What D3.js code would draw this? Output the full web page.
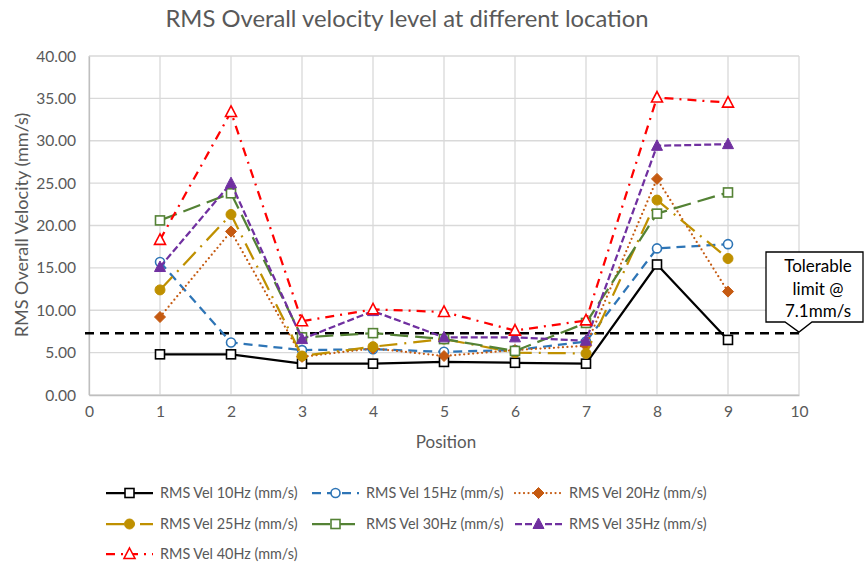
<!DOCTYPE html>
<html>
<head>
<meta charset="utf-8">
<script src="https://cdnjs.cloudflare.com/ajax/libs/d3/7.8.5/d3.min.js"></script>
<style>
  body { margin: 0; background: #fff; }
  text { font-family: Lato, "Open Sans", sans-serif; }
</style>
</head>
<body>
<svg width="864" height="563"></svg>
<script>
// DATA ////////////////////////////////////////////////////////////////////////
const positions = [1, 2, 3, 4, 5, 6, 7, 8, 9];
const vel10 = [4.8, 4.8, 3.7, 3.7, 3.9, 3.8, 3.7, 15.4, 6.5];
const vel15 = [15.7, 6.2, 5.3, 5.4, 5.1, 5.3, 6.3, 17.3, 17.8];
const vel20 = [9.2, 19.3, 4.5, 5.5, 4.6, 5.3, 5.8, 25.5, 12.2];
const vel25 = [12.4, 21.3, 4.6, 5.7, 6.6, 5.0, 4.9, 23.0, 16.1];
const vel30 = [20.6, 23.8, 6.8, 7.3, 6.6, 5.2, 8.5, 21.4, 23.9];
const vel35 = [15.1, 25.0, 6.6, 9.9, 6.8, 6.8, 6.4, 29.4, 29.6];
const vel40 = [18.3, 33.4, 8.7, 10.1, 9.8, 7.6, 8.8, 35.1, 34.5];
const seriesNames = [
  'RMS Vel 10Hz (mm/s)', 'RMS Vel 15Hz (mm/s)', 'RMS Vel 20Hz (mm/s)',
  'RMS Vel 25Hz (mm/s)', 'RMS Vel 30Hz (mm/s)', 'RMS Vel 35Hz (mm/s)',
  'RMS Vel 40Hz (mm/s)'
];
const seriesValues = [vel10, vel15, vel20, vel25, vel30, vel35, vel40];
const limitValue = 7.3;
const limitLines = ['Tolerable', 'limit @', '7.1mm/s'];
const xTicks = [0, 1, 2, 3, 4, 5, 6, 7, 8, 9, 10];
const yTicks = [0, 5, 10, 15, 20, 25, 30, 35, 40];

// STYLES //////////////////////////////////////////////////////////////////////
const styles = [
  { color: '#000000', dash: null, marker: 'square', fill: 'none', w: 2.25 },
  { color: '#2E75B6', dash: '9,6', marker: 'circle', fill: 'none', w: 2.25 },
  { color: '#C55A11', dash: '0,4.5', marker: 'diamond', fill: 'full', w: 2.25, cap: 'round' },
  { color: '#BF9000', dash: '18,7,2,7', marker: 'dot', fill: 'full', w: 2.25 },
  { color: '#548235', dash: '18,7', marker: 'square', fill: 'none', w: 2.25 },
  { color: '#7030A0', dash: '7,3', marker: 'triangle', fill: 'full', w: 2.25 },
  { color: '#FF0000', dash: '9,6,2,6', marker: 'triangle', fill: 'none', w: 2.25 }
];

// SET PARAMETERS //////////////////////////////////////////////////////////////
const svg = d3.select('svg');
const x = d3.scaleLinear().domain([0, 10]).range([89, 799]);
const y = d3.scaleLinear().domain([0, 40]).range([395, 56]);

// title
svg.append('text')
  .attr('x', 407).attr('y', 27)
  .attr('text-anchor', 'middle')
  .attr('font-size', 23.8)
  .attr('fill', '#595959')
  .text('RMS Overall velocity level at different location');

// grid
svg.append('g')
  .selectAll('line.h')
  .data(yTicks)
  .join('line')
  .attr('x1', x(0)).attr('x2', x(10))
  .attr('y1', d => y(d)).attr('y2', d => y(d))
  .attr('stroke', '#d9d9d9').attr('stroke-width', 1.3);

svg.append('g')
  .selectAll('line.v')
  .data(xTicks)
  .join('line')
  .attr('x1', d => x(d)).attr('x2', d => x(d))
  .attr('y1', y(0)).attr('y2', y(40))
  .attr('stroke', '#d9d9d9').attr('stroke-width', 1.3);

// axes
const yAxis = svg.append('g')
  .attr('transform', `translate(${x(0)},0)`)
  .call(d3.axisLeft(y).tickValues(yTicks).tickFormat(d3.format('.2f')).tickSize(0).tickPadding(13));
const xAxis = svg.append('g')
  .attr('transform', `translate(0,${y(0)})`)
  .call(d3.axisBottom(x).tickValues(xTicks).tickSize(0).tickPadding(11));
[xAxis, yAxis].forEach(a => {
  a.select('.domain').attr('stroke', '#bfbfbf').attr('stroke-width', 1.3);
  a.selectAll('text').attr('font-size', 15.6).attr('fill', '#595959')
    .style('font-family', 'Lato, "Open Sans", sans-serif');
});

// axis titles
svg.append('text')
  .attr('transform', 'translate(28,225) rotate(-90)')
  .attr('text-anchor', 'middle')
  .attr('font-size', 18).attr('fill', '#595959')
  .text('RMS Overall Velocity (mm/s)');
svg.append('text')
  .attr('x', 446).attr('y', 448)
  .attr('text-anchor', 'middle')
  .attr('font-size', 17).attr('fill', '#595959')
  .text('Position');

// limit line
svg.append('line')
  .attr('x1', x(0) - 4).attr('x2', x(10))
  .attr('y1', y(limitValue)).attr('y2', y(limitValue))
  .attr('stroke', '#000').attr('stroke-width', 2.5)
  .attr('stroke-dasharray', '9,6');

// markers
function drawMarker(sel, st, cx, cy) {
  const fill = st.fill === 'full' ? st.color : '#fff';
  let m;
  if (st.marker === 'square') {
    m = sel.append('rect').attr('x', cx - 4.5).attr('y', cy - 4.5).attr('width', 9).attr('height', 9);
  } else if (st.marker === 'circle') {
    m = sel.append('circle').attr('cx', cx).attr('cy', cy).attr('r', 4.5);
  } else if (st.marker === 'dot') {
    m = sel.append('circle').attr('cx', cx).attr('cy', cy).attr('r', 5);
  } else if (st.marker === 'diamond') {
    m = sel.append('path').attr('d', `M${cx},${cy - 5.5}L${cx + 5.5},${cy}L${cx},${cy + 5.5}L${cx - 5.5},${cy}Z`);
  } else {
    m = sel.append('path').attr('d', `M${cx},${cy - 6}L${cx + 5.5},${cy + 4.5}L${cx - 5.5},${cy + 4.5}Z`);
  }
  m.attr('fill', fill).attr('stroke', st.color).attr('stroke-width', st.fill === 'full' ? 1 : 1.6);
}

// DRAW ///////////////////////////////////////////////////////////////////////
const line = d3.line().x((d, i) => x(positions[i])).y(d => y(d));
seriesValues.forEach((vals, k) => {
  const st = styles[k];
  const g = svg.append('g');
  g.append('path')
    .datum(vals)
    .attr('d', line)
    .attr('fill', 'none')
    .attr('stroke', st.color)
    .attr('stroke-width', st.w)
    .attr('stroke-dasharray', st.dash)
    .attr('stroke-linecap', st.cap || 'butt');
  vals.forEach((v, i) => drawMarker(g, st, x(positions[i]), y(v)));
});

// callout
const tipX = x(10), tipY = y(limitValue) - 1;
const bx0 = 766, bx1 = 863, by0 = 252, by1 = 322;
svg.append('path')
  .attr('d', `M${bx0},${by0}H${bx1}V${by1}H${tipX + 13}L${tipX},${tipY}L${tipX - 14},${by1}H${bx0}Z`)
  .attr('fill', '#fff').attr('stroke', '#000').attr('stroke-width', 1.3);
svg.append('text')
  .attr('text-anchor', 'middle')
  .attr('font-size', 17).attr('fill', '#000')
  .selectAll('tspan')
  .data(limitLines)
  .join('tspan')
  .attr('x', 818)
  .attr('y', (d, i) => 272 + i * 22.5)
  .text(d => d);

// legend
const legendPos = [
  [106, 493], [312, 493], [515, 493],
  [106, 524], [312, 524], [515, 524],
  [106, 554]
];
seriesNames.forEach((name, k) => {
  const st = styles[k];
  const [lx, ly] = legendPos[k];
  const g = svg.append('g');
  g.append('line')
    .attr('x1', lx).attr('x2', lx + 47)
    .attr('y1', ly).attr('y2', ly)
    .attr('stroke', st.color).attr('stroke-width', st.w)
    .attr('stroke-dasharray', st.dash)
    .attr('stroke-linecap', st.cap || 'butt');
  drawMarker(g, st, lx + 23.5, ly);
  g.append('text')
    .attr('x', lx + 54).attr('y', ly + 5)
    .attr('font-size', 14.4).attr('fill', '#595959')
    .text(name);
});
</script>
</body>
</html>
